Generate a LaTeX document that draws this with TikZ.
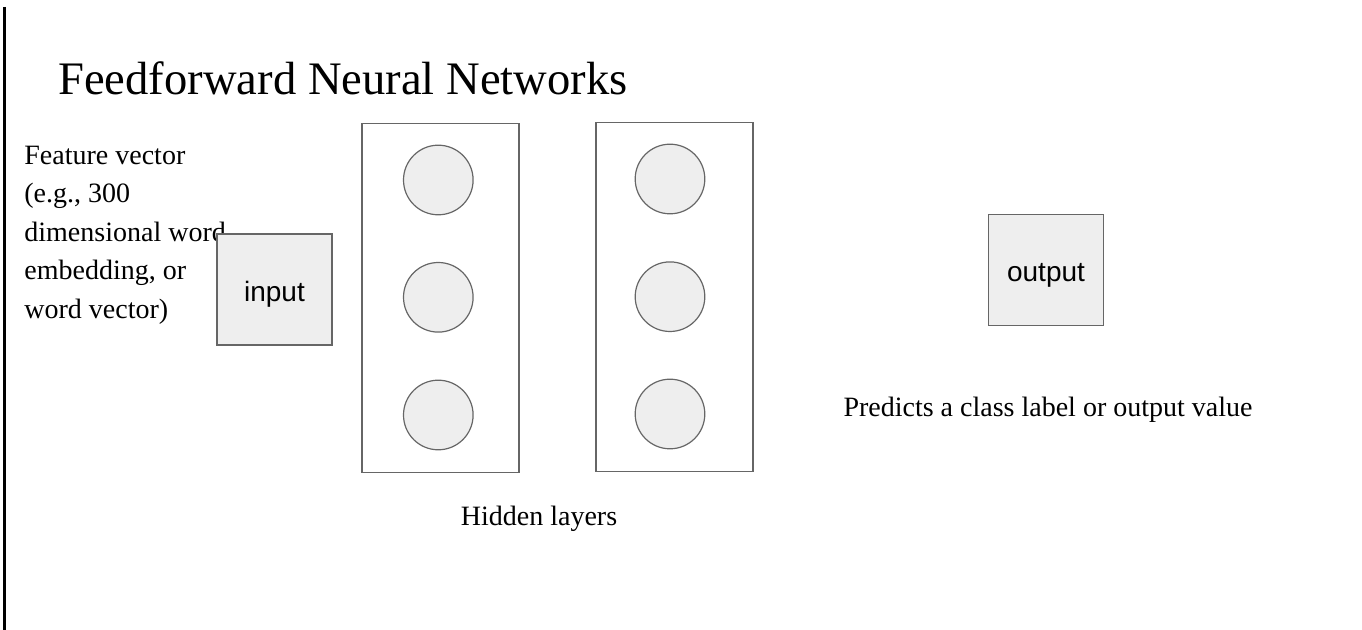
\documentclass[tikz,border=0pt]{standalone}
\usepackage{fontspec}
\setmainfont{Liberation Serif}
\newfontfamily\boxfont{Liberation Sans}
\usetikzlibrary{positioning}
\definecolor{cellfill}{HTML}{EEEEEE}
\definecolor{celldraw}{HTML}{666666}
\tikzset{unitbox/.style={draw=celldraw,fill=cellfill,line width=0.6pt,minimum width=57.5pt,minimum height=55.5pt,inner sep=0pt,text height=12pt,text depth=0pt,font=\boxfont\fontsize{14}{16}\selectfont}  }
\tikzset{neuron/.style={draw=celldraw,fill=cellfill,circle,line width=0.6pt,minimum size=34.8pt,inner sep=0pt}  }
\tikzset{layerbox/.style={draw=celldraw,line width=0.6pt,minimum width=78.5pt,minimum height=174.5pt,inner sep=0pt}  }
\tikzset{txt/.style={inner sep=0pt,font=\fontsize{14}{19.25}\selectfont}  }

\begin{document}
\begin{tikzpicture}[x=0.5pt,y=-0.5pt]
	\useasboundingbox (0,0) rectangle (1362,630);
	\coordinate (top) at (4.5,7);
	\coordinate (bot) at (4.5,630);
	\draw[line width=1.5pt] (top) -- (bot);

	\node[txt,anchor=base west,font=\fontsize{23.3}{28}\selectfont] (title) at (58,95) {Feedforward Neural Networks};

	% hidden layers
	\node[layerbox] (hid1) at (440.5,298) {};
	\node[layerbox] (hid2) at (674.5,297) {};
		\node[neuron] (n11) at (438.3,180) {};
		\node[neuron] (n12) at (438.3,297.3) {};
		\node[neuron] (n13) at (438.3,415) {};
		\node[neuron] (n21) at (670,179) {};
		\node[neuron] (n22) at (670,296.7) {};
		\node[neuron] (n23) at (670,414) {};

	\node[txt,align=left,anchor=north west] (feat) at (24,145.5) {Feature vector\\(e.g., 300\\dimensional word\\embedding, or\\word vector)};
	\node[unitbox] (in) at (274.5,289.5) {input};
	\node[unitbox] (out) at (1046,270) {output};

	\node[txt,anchor=base] (hl) at (539,526) {Hidden layers};
	\node[txt,anchor=base] (pred) at (1048,417) {Predicts a class label or output value};
\end{tikzpicture}
\end{document}
